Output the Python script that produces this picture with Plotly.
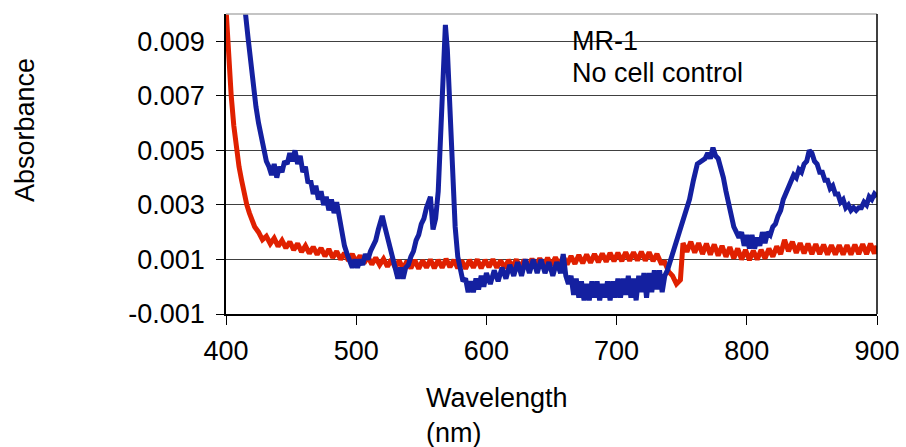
import plotly.graph_objects as go

# ---- data ----
red_wl = [400, 402, 404, 406, 408, 410, 412, 414, 416, 418, 420, 422, 425, 428, 431, 434, 437, 440, 443, 446,
          449, 452, 455, 458, 461, 464, 467, 470, 473, 476, 479, 482, 485, 488, 491, 494, 497, 500, 503, 506,
          509, 512, 515, 518, 521, 524, 527, 530, 533, 536, 539, 542, 545, 548, 551, 554, 557, 560, 563, 566,
          569, 572, 575, 578, 581, 584, 587, 590, 593, 596, 599, 602, 605, 608, 611, 614, 617, 620, 623, 626,
          629, 632, 635, 638, 641, 644, 647, 650, 653, 656, 659, 662, 665, 668, 671, 674, 677, 680, 683, 686,
          689, 692, 695, 698, 701, 704, 707, 710, 713, 716, 719, 722, 725, 728, 731, 734, 737, 740, 743, 746,
          749, 751, 754, 757, 760, 763, 766, 769, 772, 775, 778, 781, 784, 787, 790, 793, 796, 799, 802, 805,
          808, 811, 814, 817, 820, 823, 826, 829, 832, 835, 838, 841, 844, 847, 850, 853, 856, 859, 862, 865,
          868, 871, 874, 877, 880, 883, 886, 889, 892, 895, 898, 900]
red_abs = [0.0102, 0.0084, 0.0070, 0.0059, 0.0051, 0.0044, 0.0039, 0.0034, 0.0030, 0.0027, 0.0024, 0.0022,
           0.0020, 0.00172, 0.00185, 0.00158, 0.00178, 0.00148, 0.00170, 0.00142, 0.00165, 0.00135, 0.00158,
           0.00128, 0.00150, 0.00122, 0.00146, 0.00118, 0.00142, 0.00112, 0.00138, 0.00106, 0.00130, 0.00100,
           0.00124, 0.00096, 0.00120, 0.00090, 0.00114, 0.00086, 0.00110, 0.00082, 0.00106, 0.00080, 0.00102,
           0.00074, 0.00100, 0.00070, 0.00096, 0.00066, 0.00094, 0.00068, 0.00098, 0.00066, 0.00096, 0.00070,
           0.00100, 0.00068, 0.00098, 0.00070, 0.00102, 0.00072, 0.00098, 0.00068, 0.00096, 0.00066, 0.00098,
           0.00070, 0.00100, 0.00068, 0.00098, 0.00072, 0.00100, 0.00070, 0.00096, 0.00068, 0.00098, 0.00072,
           0.00100, 0.00070, 0.00098, 0.00072, 0.00102, 0.00074, 0.00104, 0.00076, 0.00106, 0.00078, 0.00108,
           0.00080, 0.00110, 0.00082, 0.00112, 0.00084, 0.00116, 0.00086, 0.00118, 0.00088, 0.00120, 0.00090,
           0.00122, 0.00092, 0.00124, 0.00094, 0.00124, 0.00094, 0.00126, 0.00096, 0.00126, 0.00096, 0.00128,
           0.00096, 0.00126, 0.00094, 0.00120, 0.00088, 0.00090, 0.00055, 0.00040, 0.00010, 0.00025, 0.00160,
           0.00128, 0.00165, 0.00125, 0.00160, 0.00120, 0.00158, 0.00118, 0.00155, 0.00114, 0.00150, 0.00110,
           0.00145, 0.00104, 0.00140, 0.00100, 0.00135, 0.00098, 0.00132, 0.00100, 0.00135, 0.00104, 0.00140,
           0.00110, 0.00148, 0.00120, 0.00172, 0.00130, 0.00165, 0.00124, 0.00160, 0.00122, 0.00158, 0.00120,
           0.00156, 0.00120, 0.00154, 0.00118, 0.00152, 0.00118, 0.00152, 0.00118, 0.00152, 0.00118, 0.00154,
           0.00120, 0.00156, 0.00120, 0.00158, 0.00122, 0.00150]

blue_wl = [410, 413, 415, 417, 419, 421, 423, 425, 427, 429, 431, 433, 435, 437, 439, 441, 443, 445, 447, 449,
           451, 453, 455, 457, 459, 461, 463, 465, 467, 469, 471, 473, 475, 477, 479, 481, 483, 485, 487, 489,
           491, 493, 495, 497, 499, 501, 503, 505, 507, 509, 511, 513, 515, 517, 519,
           520, 522, 524, 526, 528, 530, 532, 534, 536, 538, 540, 542, 544, 546, 548, 550, 552, 554, 556, 557,
           559, 561, 563, 565, 567, 568.5, 570, 571.5, 573.5, 576, 578, 580, 582,
           584, 586, 588, 590, 592, 594, 596, 598,
           600, 603, 606, 609, 612, 615, 618, 621, 624, 627, 630, 633, 636, 639, 642, 645, 648, 651, 654, 657,
           659,
           661, 663, 665, 667, 669, 671, 673, 675, 677, 679, 681, 683, 685, 687, 689, 691, 693, 695, 697, 699,
           701, 703, 705, 707, 709, 711, 713, 715, 717, 719, 721, 723, 725, 727, 729, 731, 733, 735, 737,
           739, 741, 744, 747, 750, 753, 756, 759, 762, 765, 768, 770, 772, 774, 776, 778, 780, 782, 784, 786,
           788, 790, 792, 794, 796, 798, 800, 802, 804, 806, 808, 810, 812, 814, 816, 818, 820, 822, 824, 826,
           828, 830, 832, 834, 836, 838, 840, 842, 844, 846, 848, 850, 852, 854, 856, 858, 860, 862, 864, 866,
           868, 870, 872, 874, 876, 878, 880, 882, 884, 886, 888, 890, 892, 894, 896, 898, 900]
blue_abs = [0.0125, 0.0108, 0.0100, 0.0091, 0.0082, 0.0073, 0.0066, 0.0060, 0.0055, 0.0050, 0.0046, 0.0044,
            0.0041, 0.0045, 0.0040, 0.0044, 0.0042, 0.0046, 0.0045, 0.0049, 0.0046, 0.0050, 0.0045, 0.0048,
            0.0042, 0.0044, 0.0038, 0.0039, 0.0034, 0.0037, 0.0032, 0.0035, 0.0030, 0.0033, 0.0028, 0.0032,
            0.0027, 0.0031, 0.0025, 0.0020,
            0.0015, 0.0012, 0.0010, 0.0007, 0.0010, 0.0007, 0.0010, 0.0008, 0.0012, 0.0010, 0.0013, 0.0015,
            0.0017, 0.0021, 0.0025,
            0.0026, 0.0022, 0.0018, 0.0013, 0.0009, 0.0006, 0.0003, 0.0007, 0.0003, 0.0007, 0.0008, 0.0011,
            0.0013, 0.0017, 0.0019, 0.0023, 0.0025, 0.0029, 0.0031, 0.0033,
            0.0021, 0.0025, 0.0035, 0.0058, 0.0083, 0.0096, 0.0087, 0.0068, 0.0045, 0.0022, 0.0011, 0.0006,
            0.0002,
            0.0003, -0.0002, 0.0002, -0.0002, 0.0003, -0.0001, 0.0004, 0.0,
            0.0005, 0.0001, 0.0006, 0.0002, 0.0007, 0.0003, 0.0008, 0.0004, 0.0009, 0.0004, 0.0010, 0.0005,
            0.0010, 0.0005, 0.0010, 0.0005, 0.0009, 0.0004, 0.0009, 0.0005,
            0.0012,
            0.0004, 0.0001, 0.0004, -0.0003, 0.0003, -0.0004, 0.0002, -0.0005, 0.0001, -0.0005, 0.0002, -0.0004,
            0.0002, -0.0005, 0.0001, -0.0004, 0.0002, -0.0005, 0.0002, -0.0004,
            0.0003, -0.0004, 0.0003, -0.0003, 0.0004, -0.0004, 0.0003, -0.0005, 0.0004, -0.0002, 0.0005, -0.0004,
            0.0005, -0.0002, 0.0006, -0.0001, 0.0006, -0.0002, 0.0004,
            0.0006, 0.0009, 0.0014, 0.0019, 0.0023, 0.0027, 0.0032, 0.0039, 0.0045, 0.0046, 0.0047, 0.0049,
            0.0047, 0.0051, 0.0048, 0.0047, 0.0044, 0.0040, 0.0035, 0.0030,
            0.0025, 0.0022, 0.0020, 0.0018, 0.0020, 0.0015, 0.0019, 0.0014, 0.0019, 0.0014, 0.0018, 0.0015,
            0.0020, 0.0016, 0.0020, 0.0019, 0.0022, 0.0023, 0.0026, 0.0028,
            0.0032, 0.0034, 0.0037, 0.0038, 0.0041, 0.0040, 0.0043, 0.0042, 0.0045, 0.0046, 0.0050, 0.0049,
            0.0046, 0.0045, 0.0042, 0.0042, 0.0039, 0.0039, 0.0036, 0.0037,
            0.0034, 0.0034, 0.0031, 0.0032, 0.0029, 0.0030, 0.0028, 0.0029, 0.0028, 0.0029, 0.0029, 0.0031,
            0.0030, 0.0033, 0.0032, 0.0034, 0.0033]

y_tickvals = [-0.001, 0.001, 0.003, 0.005, 0.007, 0.009]
y_ticktext = ["-0.001", "0.001", "0.003", "0.005", "0.007", "0.009"]
x_tickvals = [400, 500, 600, 700, 800, 900]

FONT = "Liberation Sans, Arial, sans-serif"
RED = "#E02000"
BLUE = "#1420A0"

fig = go.Figure()
fig.add_trace(go.Scatter(x=red_wl, y=red_abs, mode="lines",
                         line=dict(color=RED, width=5), showlegend=False))
fig.add_trace(go.Scatter(x=blue_wl, y=blue_abs, mode="lines",
                         line=dict(color=BLUE, width=5), showlegend=False))

fig.update_layout(
    template="none",
    width=906, height=447,
    margin=dict(l=226, r=29, t=14, b=133, autoexpand=False),
    paper_bgcolor="white", plot_bgcolor="white",
    font=dict(family=FONT, size=27, color="black"),
    xaxis=dict(range=[400, 900], tickvals=x_tickvals, ticks="outside", ticklen=9,
               tickcolor="black", showline=True, linecolor="black", linewidth=1.5,
               showgrid=False, zeroline=False, tickfont=dict(size=27),
               automargin=False, ticklabelstandoff=3),
    yaxis=dict(range=[-0.001, 0.010], tickvals=y_tickvals, ticktext=y_ticktext,
               ticks="outside", ticklen=8, tickcolor="black", showline=True,
               linecolor="black", linewidth=1.5, showgrid=True, gridcolor="#404040",
               gridwidth=1, zeroline=False, tickfont=dict(size=27),
               automargin=False, ticklabelstandoff=6),
    shapes=[
        dict(type="line", xref="paper", yref="paper", x0=0, x1=1, y0=1, y1=1,
             line=dict(color="#b0b0b0", width=1.5)),
        dict(type="line", xref="paper", yref="paper", x0=1, x1=1, y0=0, y1=1,
             line=dict(color="black", width=1.5)),
    ],
    annotations=[
        dict(text="MR-1", xref="paper", yref="paper", x=(570 - 226) / 651, y=1 - (41 - 14) / 300,
             xanchor="left", yanchor="middle", showarrow=False, font=dict(size=27)),
        dict(text="No cell control", xref="paper", yref="paper", x=(570 - 226) / 651,
             y=1 - (73 - 14) / 300, xanchor="left", yanchor="middle", showarrow=False,
             font=dict(size=27)),
        dict(text="Absorbance", xref="paper", yref="paper", x=(25 - 226) / 651,
             y=1 - (130 - 14) / 300, xanchor="center", yanchor="middle", textangle=-90,
             showarrow=False, font=dict(size=27)),
        dict(text="Wavelength<br>(nm)", xref="paper", yref="paper", x=(424 - 226) / 651,
             y=1 - (415 - 14) / 300, xanchor="left", yanchor="middle", align="left",
             showarrow=False, font=dict(size=27)),
    ],
)

fig.write_html("out.html")
